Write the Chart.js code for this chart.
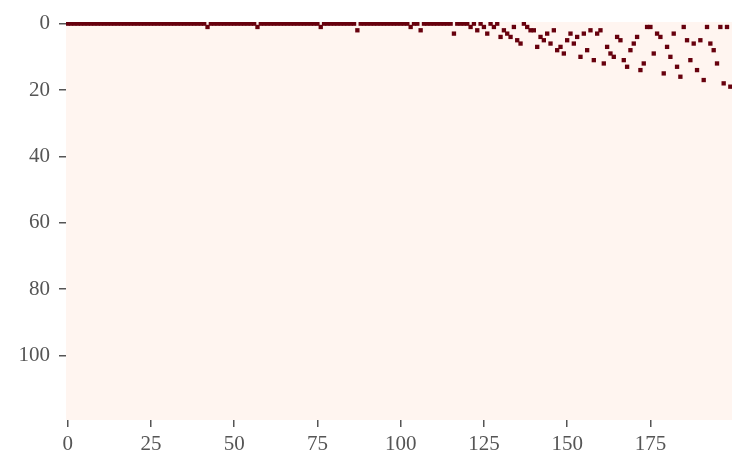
<!DOCTYPE html>
<html>
<head>
<meta charset="utf-8">
<script src="https://cdn.jsdelivr.net/npm/chart.js@4"></script>
<style>
  html, body { margin: 0; padding: 0; background: #ffffff; }
  #wrap { width: 748px; height: 474px; }
</style>
</head>
<body>
<div id="wrap"><canvas id="heat" width="748" height="474"></canvas></div>
<script>
// row of the single hot cell in each column (column index = position in array)
const hotRow = [
  0, 0, 0, 0, 0, 0, 0, 0, 0, 0, 0, 0, 0, 0, 0, 0, 0, 0, 0, 0,
  0, 0, 0, 0, 0, 0, 0, 0, 0, 0, 0, 0, 0, 0, 0, 0, 0, 0, 0, 0,
  0, 0, 1, 0, 0, 0, 0, 0, 0, 0, 0, 0, 0, 0, 0, 0, 0, 1, 0, 0,
  0, 0, 0, 0, 0, 0, 0, 0, 0, 0, 0, 0, 0, 0, 0, 0, 1, 0, 0, 0,
  0, 0, 0, 0, 0, 0, 0, 2, 0, 0, 0, 0, 0, 0, 0, 0, 0, 0, 0, 0,
  0, 0, 0, 1, 0, 0, 2, 0, 0, 0, 0, 0, 0, 0, 0, 0, 3, 0, 0, 0,
  0, 1, 0, 2, 0, 1, 3, 0, 1, 0, 4, 2, 3, 4, 1, 5, 6, 0, 1, 2,
  2, 7, 4, 5, 3, 6, 2, 8, 7, 9, 5, 3, 6, 4, 10, 3, 8, 2, 11, 3,
  2, 12, 7, 9, 10, 4, 5, 11, 13, 8, 6, 4, 14, 12, 1, 1, 9, 3, 4, 15,
  7, 10, 3, 13, 16, 1, 5, 11, 6, 14, 5, 17, 1, 6, 8, 12, 1, 18, 1, 19
];
const columns = hotRow.map((_, i) => i);
const nRows = 120;
const xTicks = [0, 25, 50, 75, 100, 125, 150, 175];
const yTicks = [0, 20, 40, 60, 80, 100];

const lowColor = '#fff5f0';
const highColor = '#67000d';
const textColor = '#555555';

// light background for the whole matrix (all the zero cells)
const matrixBg = {
  id: 'matrixBg',
  beforeDatasetsDraw(chart) {
    const { ctx, chartArea } = chart;
    ctx.save();
    ctx.fillStyle = lowColor;
    ctx.fillRect(chartArea.left, chartArea.top, chartArea.right - chartArea.left, chartArea.bottom - chartArea.top);
    ctx.restore();
  }
};

const ctx = document.getElementById('heat').getContext('2d');
new Chart(ctx, {
  type: 'bar',
  data: {
    datasets: [{
      data: columns.map(c => ({ x: c, y: [hotRow[c] - 0.5, hotRow[c] + 0.5] })),
      backgroundColor: highColor,
      borderWidth: 0,
      inflateAmount: 0.5,
      barPercentage: 1,
      categoryPercentage: 1
    }]
  },
  options: {
    responsive: false,
    animation: false,
    layout: { padding: { top: 22, right: 16, left: 0, bottom: 0 } },
    plugins: {
      legend: { display: false },
      tooltip: { enabled: false }
    },
    scales: {
      x: {
        type: 'linear',
        offset: false,
        min: -0.5,
        max: columns.length - 0.5,
        afterBuildTicks: s => { s.ticks = xTicks.map(v => ({ value: v })); },
        afterFit: s => { s.height = 54; },
        border: { display: false },
        grid: { offset: false, drawOnChartArea: false, drawTicks: true, tickLength: 7, tickColor: textColor, lineWidth: 1.5 },
        ticks: { color: textColor, padding: 5, maxRotation: 0, font: { family: 'Liberation Serif', size: 21 } }
      },
      y: {
        type: 'linear',
        reverse: true,
        min: -0.5,
        max: nRows - 0.5,
        afterBuildTicks: s => { s.ticks = yTicks.map(v => ({ value: v })); },
        afterFit: s => { s.width = 66; },
        border: { display: false },
        grid: { drawOnChartArea: false, drawTicks: true, tickLength: 7, tickColor: textColor, lineWidth: 1.5 },
        ticks: { color: textColor, padding: 9, font: { family: 'Liberation Serif', size: 21 } }
      }
    }
  },
  plugins: [matrixBg]
});
</script>
</body>
</html>
